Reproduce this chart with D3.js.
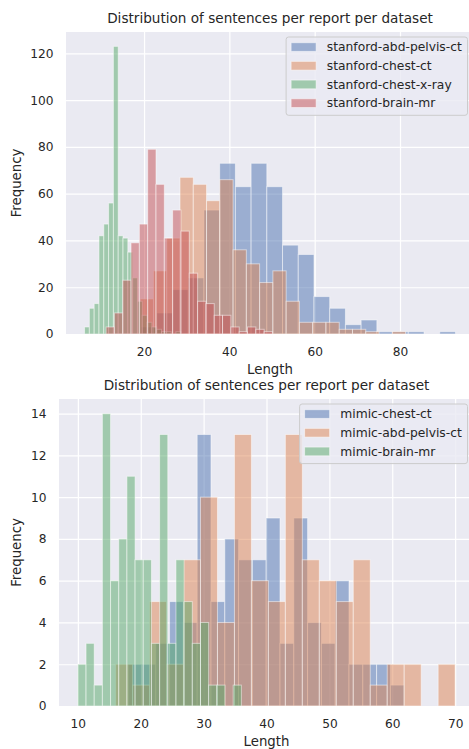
<!DOCTYPE html>
<html>
<head>
<meta charset="utf-8">
<script src="https://cdn.jsdelivr.net/npm/d3@7"></script>
<style>
  body { margin: 0; background: #fff; }
  svg { display: block; font-family: 'DejaVu Sans', sans-serif; }
  .tick text { fill: #262626; font-size: 12.2px; }
</style>
</head>
<body>
<svg id="chart" width="469" height="749"></svg>
<script>
// top panel: stanford datasets (20 bins each, range = [min, max] of lengths)
var stanfordLabels = ['stanford-abd-pelvis-ct', 'stanford-chest-ct', 'stanford-chest-x-ray', 'stanford-brain-mr'];
var stanfordRanges = [[19.3, 93.0], [19.1, 81.3], [6.05, 28.6], [11.1, 50.1]];
var stanfordAbdPelvisCt = [3, 9, 19, 24, 53, 73, 63, 73, 63, 38, 34, 16, 11, 4, 6, 1, 1, 1, 0, 1];
var stanfordChestCt = [15, 27, 41, 67, 64, 57, 66, 36, 30, 22, 27, 14, 5, 5, 5, 2, 2, 1, 0, 1];
var stanfordChestXray = [3, 11, 13, 42, 47, 56, 123, 42, 41, 35, 24, 14, 8, 5, 3, 2, 1, 1, 0, 1];
var stanfordBrainMr = [3, 9, 23, 39, 47, 79, 64, 41, 53, 44, 26, 14, 13, 8, 8, 3, 1, 3, 2, 1];

// bottom panel: mimic datasets
var mimicLabels = ['mimic-chest-ct', 'mimic-abd-pelvis-ct', 'mimic-brain-mr'];
var mimicRanges = [[18.0, 61.9], [16, 70], [10, 36]];
var mimicChestCt = [2, 2, 3, 5, 4, 13, 5, 8, 7, 7, 9, 3, 9, 4, 3, 6, 2, 2, 2, 1];
var mimicAbdPelvisCt = [2, 1, 5, 2, 7, 10, 4, 13, 6, 5, 13, 7, 6, 5, 7, 1, 2, 2, 0, 2];
var mimicBrainMr = [2, 3, 1, 14, 6, 8, 11, 7, 7, 3, 13, 3, 7, 5, 3, 4, 1, 1, 0, 1];

var topTicksX = [20, 40, 60, 80];
var topTicksY = [0, 20, 40, 60, 80, 100, 120];
var bottomTicksX = [10, 20, 30, 40, 50, 60, 70];
var bottomTicksY = [0, 2, 4, 6, 8, 10, 12, 14];

var title = 'Distribution of sentences per report per dataset';
var palette = ['#4C72B0', '#DD8452', '#55A868', '#C44E52'];

var svg = d3.select('#chart');

function drawPanel(box, labels, ranges, counts, ticksX, ticksY) {
  var lo = d3.min(ranges, function (r) { return r[0]; });
  var hi = d3.max(ranges, function (r) { return r[1]; });
  var pad = (hi - lo) * 0.05;
  var x = d3.scaleLinear().domain([lo - pad, hi + pad]).range([box.left, box.right]);
  var yMax = d3.max(counts, function (c) { return d3.max(c); }) * 1.05;
  var y = d3.scaleLinear().domain([0, yMax]).range([box.bottom, box.top]);

  // background
  svg.append('rect')
    .attr('x', box.left).attr('y', box.top)
    .attr('width', box.right - box.left).attr('height', box.bottom - box.top)
    .attr('fill', '#EAEAF2');

  // grid + tick labels
  var gx = svg.append('g')
    .attr('transform', 'translate(0,' + box.bottom + ')')
    .call(d3.axisBottom(x).tickValues(ticksX).tickSize(-(box.bottom - box.top)).tickPadding(13));
  var gy = svg.append('g')
    .attr('transform', 'translate(' + box.left + ',0)')
    .call(d3.axisLeft(y).tickValues(ticksY).tickSize(-(box.right - box.left)).tickPadding(12.5));
  [gx, gy].forEach(function (g) {
    g.select('.domain').remove();
    g.attr('font-family', null).attr('font-size', null);
    g.selectAll('line').attr('stroke', '#fff').attr('stroke-width', 1.2);
  });

  // histogram bars
  counts.forEach(function (c, s) {
    var r = ranges[s];
    var w = (r[1] - r[0]) / c.length;
    var bins = c.map(function (v, i) {
      return { x0: r[0] + i * w, x1: r[0] + (i + 1) * w, v: v };
    }).filter(function (d) { return d.v > 0; });
    svg.append('g').selectAll('rect')
      .data(bins)
    .enter().append('rect')
      .attr('x', function (d) { return x(d.x0); })
      .attr('width', function (d) { return x(d.x1) - x(d.x0); })
      .attr('y', function (d) { return y(d.v); })
      .attr('height', function (d) { return y(0) - y(d.v); })
      .attr('fill', palette[s]).attr('fill-opacity', 0.5)
      .attr('stroke', '#fff').attr('stroke-opacity', 0.5).attr('stroke-width', 1);
  });

  // title and axis labels
  var cx = (box.left + box.right) / 2;
  svg.append('text')
    .attr('x', cx).attr('y', box.top - 9.5)
    .attr('text-anchor', 'middle').attr('fill', '#262626')
    .style('font-size', '13.6px')
    .text(title);
  svg.append('text')
    .attr('x', cx).attr('y', box.bottom + 39.5)
    .attr('text-anchor', 'middle').attr('fill', '#262626')
    .style('font-size', '13.3px')
    .text('Length');
  svg.append('text')
    .attr('transform', 'translate(21,' + ((box.top + box.bottom) / 2) + ') rotate(-90)')
    .attr('text-anchor', 'middle').attr('fill', '#262626')
    .style('font-size', '13.3px')
    .text('Frequency');

  // legend
  var rowH = 18.7;
  var lg = svg.append('g');
  var frame = lg.append('rect');
  var texts = labels.map(function (name, i) {
    return lg.append('text')
      .attr('y', box.top + 15 + i * rowH + 4.3)
      .attr('fill', '#262626')
      .style('font-size', '12.3px')
      .text(name);
  });
  var textW = d3.max(texts, function (t) { return t.node().getComputedTextLength(); });
  var legW = 5 + 25 + 10.7 + textW + 5.7;
  var legRight = box.right - 6.5;
  var legLeft = legRight - legW;
  var legTop = box.top + 5;
  frame
    .attr('x', legLeft).attr('y', legTop)
    .attr('width', legW).attr('height', labels.length * rowH + 3.5)
    .attr('rx', 2.5)
    .attr('fill', '#EAEAF2').attr('fill-opacity', 0.8)
    .attr('stroke', '#cccccc').attr('stroke-width', 1);
  texts.forEach(function (t, i) {
    t.attr('x', legLeft + 40.7);
    lg.append('rect')
      .attr('x', legLeft + 5).attr('y', box.top + 15 + i * rowH - 4.3)
      .attr('width', 25).attr('height', 8.7)
      .attr('fill', palette[i]).attr('fill-opacity', 0.5)
      .attr('stroke', '#fff').attr('stroke-opacity', 0.5).attr('stroke-width', 1);
  });
}

drawPanel({ left: 66, right: 474, top: 32, bottom: 334 },
  stanfordLabels, stanfordRanges,
  [stanfordAbdPelvisCt, stanfordChestCt, stanfordChestXray, stanfordBrainMr],
  topTicksX, topTicksY);

drawPanel({ left: 59, right: 474, top: 399, bottom: 706 },
  mimicLabels, mimicRanges,
  [mimicChestCt, mimicAbdPelvisCt, mimicBrainMr],
  bottomTicksX, bottomTicksY);
</script>
</body>
</html>
